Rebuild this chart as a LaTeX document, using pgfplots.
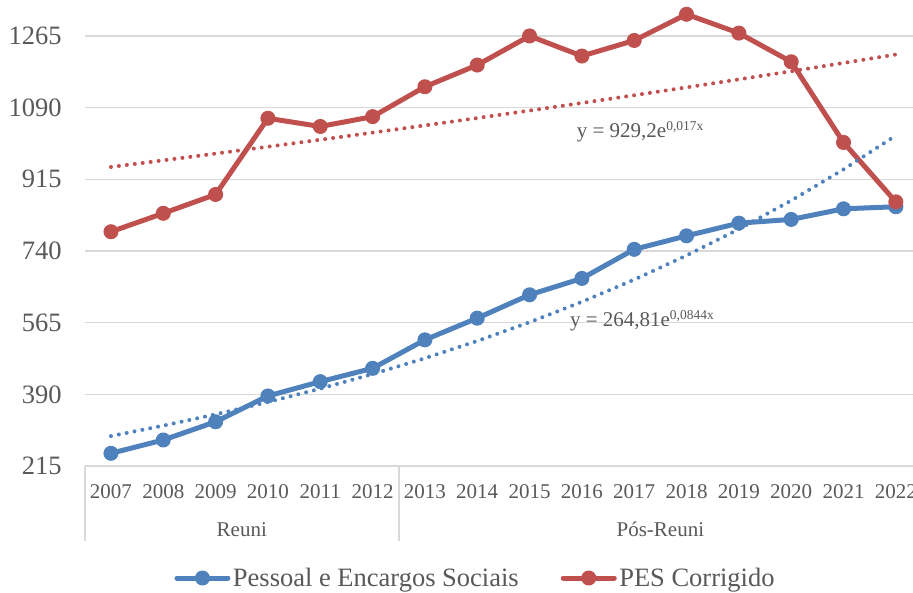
\documentclass[border=0pt]{standalone}
\usepackage{fontspec}
\setmainfont{Liberation Serif}
\setsansfont{Liberation Serif}
\usepackage{pgfplots}
\pgfplotsset{compat=1.18}
\definecolor{pesred}{HTML}{C0504D}
\definecolor{pesblue}{HTML}{4F81BD}
\definecolor{gridg}{HTML}{D9D9D9}
\definecolor{txt}{HTML}{595959}
\begin{document}
\begin{tikzpicture}
\begin{axis}[name=ax, at={(0,0)}, anchor=south west,
  scale only axis, width=837.2pt, height=501.7pt,
  xmin=-0.5, xmax=15.5, ymin=215, ymax=1440,
  clip=false,
  axis x line*=bottom, axis y line*=left,
  y axis line style={draw=none},
  x axis line style={draw=gridg, line width=1.5pt, -},
  xtick={0,1,2,3,4,5,6,7,8,9,10,11,12,13,14,15},
  xticklabels={2007,2008,2009,2010,2011,2012,2013,2014,2015,2016,2017,2018,2019,2020,2021,2022},
  ytick={215,390,565,740,915,1090,1265},
  ymajorgrids, grid style={draw=gridg, line width=1.5pt},
  major tick length=0pt, tick style={draw=none},
  /pgf/number format/assume math mode=true,
  /pgf/number format/1000 sep={},
  xticklabel style={anchor=base, inner sep=0pt, yshift=-32.5pt, font=\rmfamily\fontsize{21}{21}\selectfont, text=txt},
  yticklabel style={anchor=east, inner sep=0pt, xshift=-23pt, font=\rmfamily\fontsize{26.5}{26.5}\selectfont, text=txt},
  legend columns=2,
  legend style={at={(0.1071,-0.22325)}, anchor=west, draw=none, fill=none,
    inner sep=0pt, outer sep=0pt, font=\rmfamily\fontsize{26.5}{26.5}\selectfont, text=txt,
    nodes={inner sep=0pt},
    /tikz/every odd column/.append style={column sep=2.5pt},
    /tikz/every even column/.append style={column sep=42pt}},
  legend image code/.code={\draw[#1, mark repeat=2, mark phase=2] plot coordinates {(0pt,0pt) (25.5pt,0pt) (51pt,0pt)};},
]
\addplot[color=pesblue, line width=5pt, line join=round, line cap=round, mark=*, mark size=7pt, mark options={solid, fill=pesblue, draw=pesblue, line width=1pt}]
coordinates {(0,246) (1,278.5) (2,323) (3,386) (4,421) (5,453.5) (6,523) (7,576) (8,633) (9,673) (10,744) (11,777) (12,808) (13,817) (14,843) (15,848)};
\addlegendentry{Pessoal e Encargos Sociais}
\addplot[color=pesred, line width=5pt, line join=round, line cap=round, mark=*, mark size=7pt, mark options={solid, fill=pesred, draw=pesred, line width=1pt}]
coordinates {(0,787) (1,832) (2,878) (3,1064) (4,1044) (5,1068) (6,1141) (7,1194) (8,1265) (9,1216) (10,1254) (11,1318) (12,1272) (13,1202) (14,1005) (15,860)};
\addlegendentry{PES Corrigido}
% exponential trendlines (values from the displayed equations)
\addplot[forget plot, color=pesblue, line width=4pt, line cap=round, dash pattern=on 0pt off 8pt]
coordinates {(0,288.13) (1,313.50) (2,341.11) (3,371.15) (4,403.84) (5,439.40) (6,478.10) (7,520.20) (8,566.01) (9,615.86) (10,670.09) (11,729.10) (12,793.30) (13,863.17) (14,939.18) (15,1021.88)};
\addplot[forget plot, color=pesred, line width=4pt, line cap=round, dash pattern=on 0pt off 8pt]
coordinates {(0,945.13) (1,961.34) (2,977.82) (3,994.58) (4,1011.64) (5,1028.98) (6,1046.62) (7,1064.57) (8,1082.82) (9,1101.39) (10,1120.27) (11,1139.48) (12,1159.01) (13,1178.88) (14,1199.10) (15,1219.66)};
% category separators
\draw[gridg, line width=1.5pt] (axis cs:-0.5,215) -- ++(0pt,-75pt);
\draw[gridg, line width=1.5pt] (axis cs:5.5,215) -- ++(0pt,-75pt);
\draw[gridg, line width=1.5pt] (axis cs:15.5,215) -- ++(0pt,-75pt);
\node[anchor=base, text=txt, font=\rmfamily\fontsize{21}{21}\selectfont, inner sep=0pt, yshift=-70.7pt] at (axis cs:2.5,215) {Reuni};
\node[anchor=base, text=txt, font=\rmfamily\fontsize{21}{21}\selectfont, inner sep=0pt, yshift=-70.7pt] at (axis cs:10.5,215) {Pós-Reuni};
% trendline equations
\node[anchor=base west, text=txt, font=\rmfamily\fontsize{21}{21}\selectfont, inner sep=0pt] at (axis cs:8.90,1016) {y = 929,2e\raisebox{7.5pt}{\fontsize{13.5}{13.5}\selectfont 0,017x}};
\node[anchor=base west, text=txt, font=\rmfamily\fontsize{21}{21}\selectfont, inner sep=0pt] at (axis cs:8.77,555) {y = 264,81e\raisebox{7.5pt}{\fontsize{13.5}{13.5}\selectfont 0,0844x}};
\end{axis}
\pgfresetboundingbox
\useasboundingbox ([shift={(-84.8pt,-126pt)}]ax.south west) rectangle ++(913pt,592pt);
\end{tikzpicture}
\end{document}
